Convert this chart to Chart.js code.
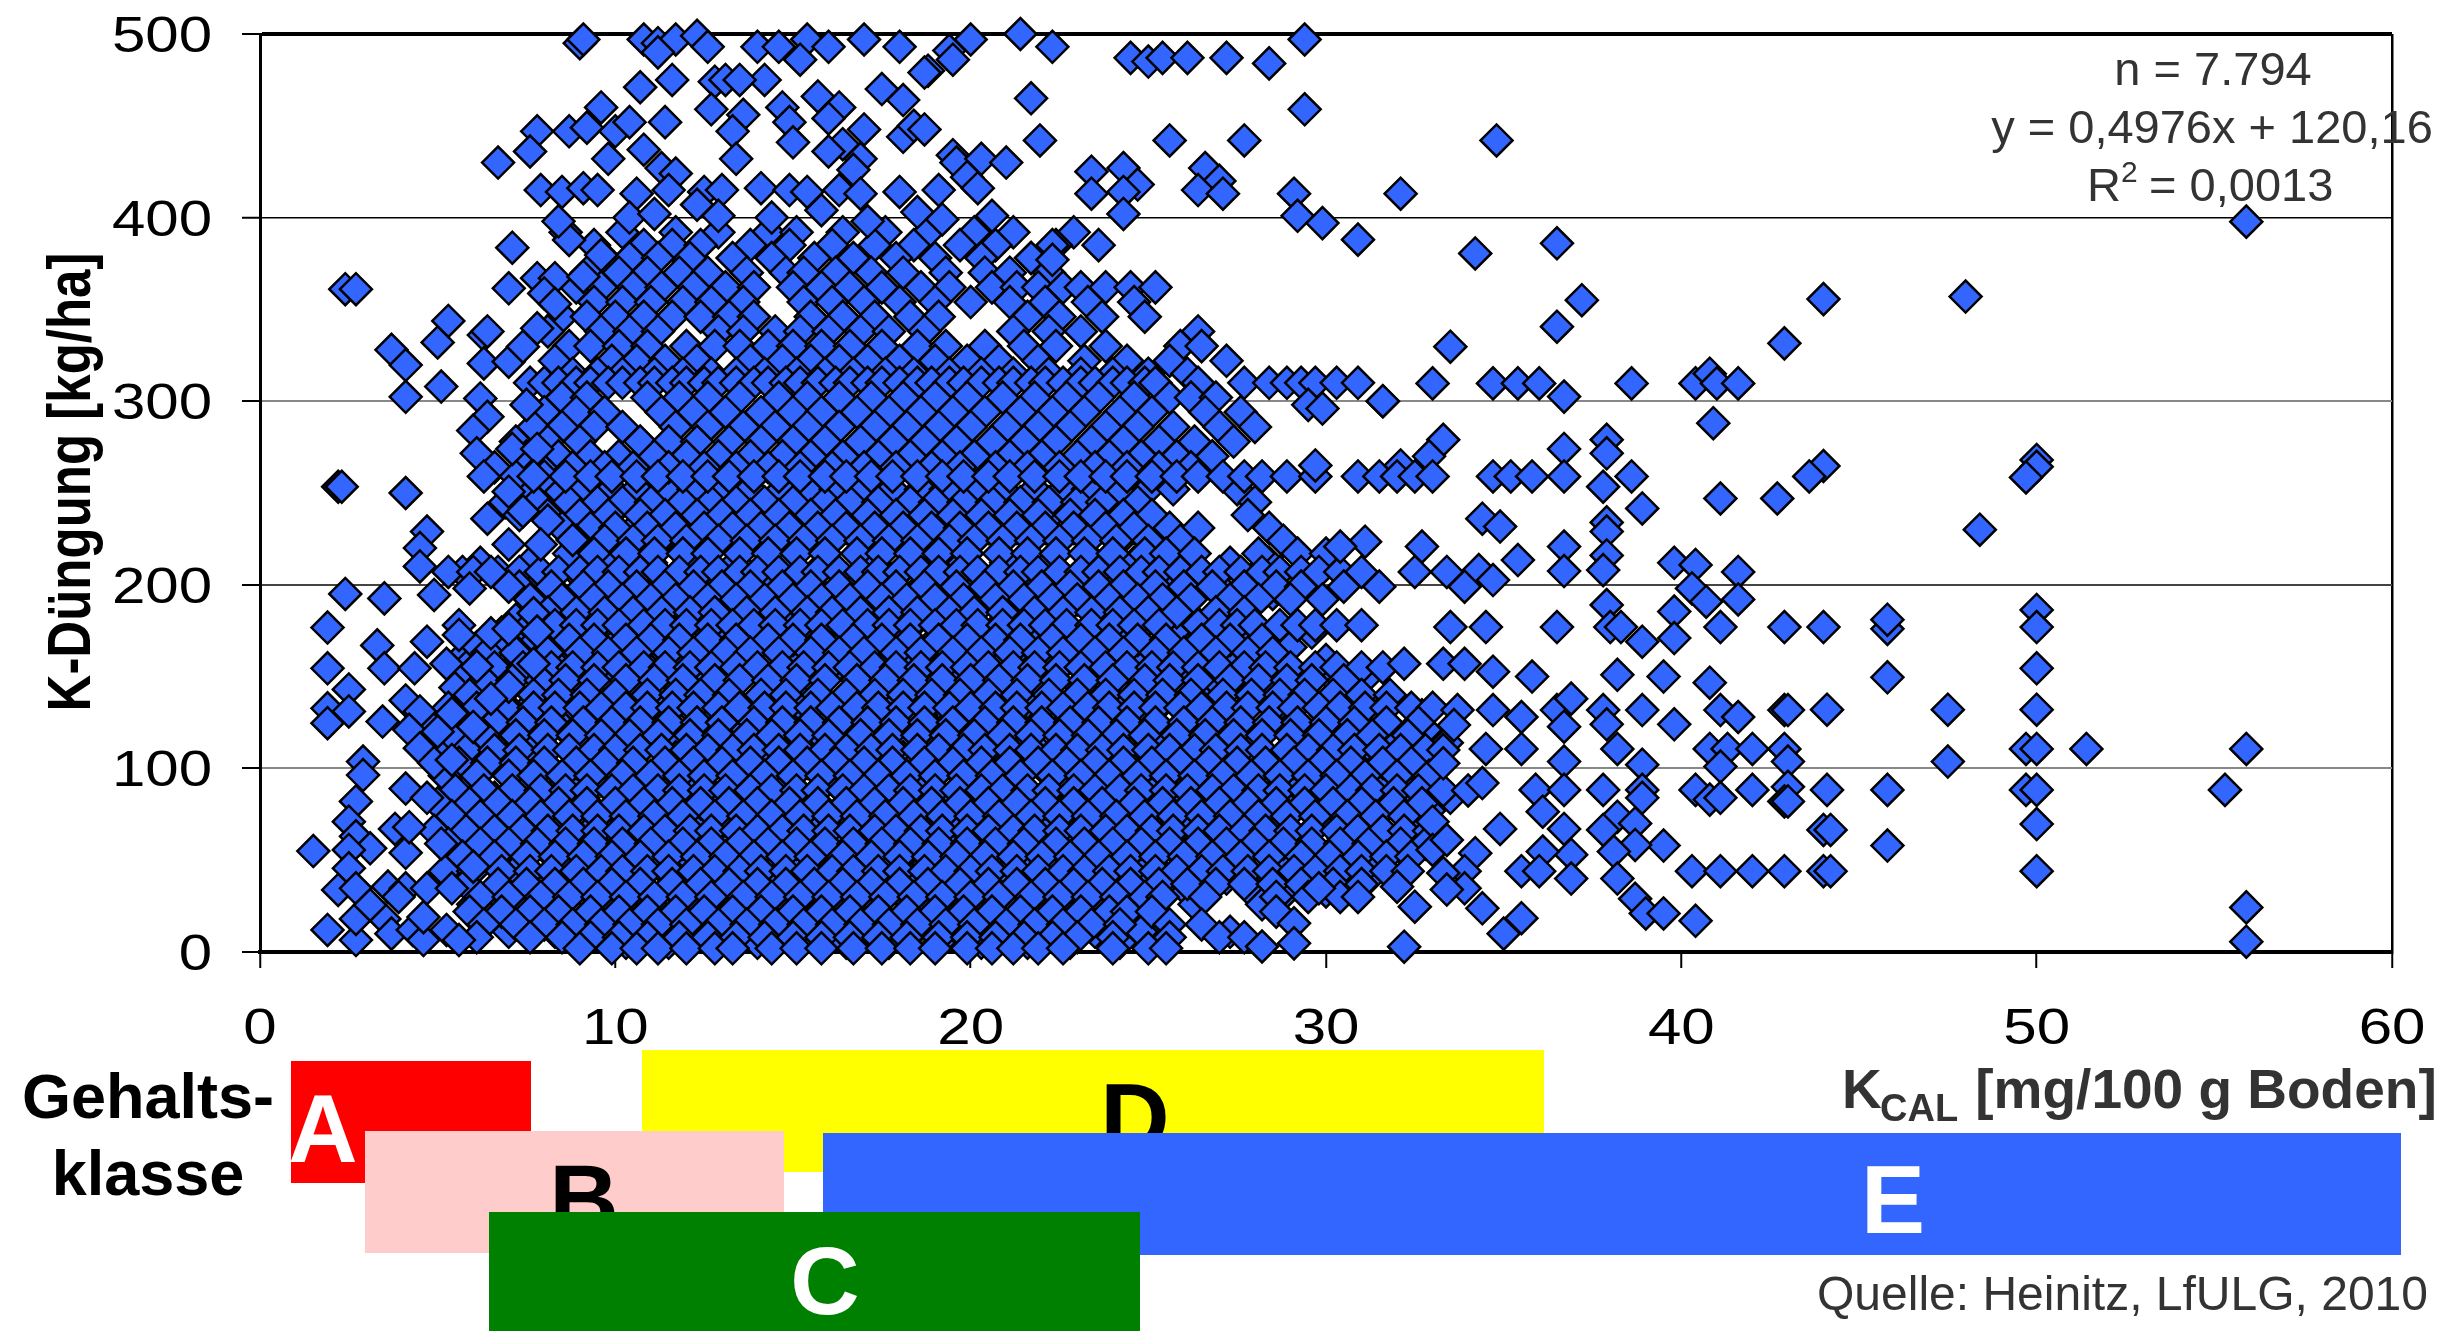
<!DOCTYPE html>
<html>
<head>
<meta charset="utf-8">
<title>K-Düngung</title>
<script src="https://cdn.jsdelivr.net/npm/chart.js@4/dist/chart.umd.min.js"></script>
<style>
  html, body { margin: 0; padding: 0; background: #fff; }
  canvas { display: block; }
</style>
</head>
<body>
<canvas id="kChart" width="2447" height="1331"></canvas>
<script>
var xTicks = [0, 10, 20, 30, 40, 50, 60];
var yTicks = [0, 100, 200, 300, 400, 500];

// sparse points above 400 kg/ha
var kcalTop = [9.0,9.1,10.8,11.2,11.7,12.3,15.4,17,20,21.4,29.4,12.6,14,14.6,16,18,19.4,22.3,11.2,15.2,19.5,24.5,25,25.4,26.1,27.2,28.4,18.8,12.8,14.2,10.7,11.6,13.1,13.5,17.5,18.1,18.7,21.7,29.4,9.6,12.7,13.6,14.7,15.7,16.3,7.8,8.7,9.2,10,10.4,11.4,13.3,14.9,15,16,16.4,17,18.1,18.4,18.7,21.95,25.6,27.7,34.8,6.7,7.6,9.8,10.8,11.3,11.7,13.4,16,16.9,16.7,19.5,19.6,20.3,19.9,21,23.4,24.3,26.6,24.7,27,7.9,8.5,9.1,9.5,10.6,11.5,12.5,13,14.1,14.9,15.4,16.3,16.9,18,19.1,20.2,23.4,24.3,26.4,27.1,29.1,32.1,8.4,10.4,11.1,12.3,12.9,14.4,15.8,17.1,18.5,19.2,20.6,24.3,29.2,29.9];
var duengTop = [495,497,497,495,497,499,497,497,497,500,497,493,493,493,493,493,491,493,490,486,486,487,485,487,487,487,484,480,474,475,471,475,475,475,470,464,479,465,459,460,459,456,460,466,460,447,447,449,447,452,452,447,452,441,454,440,448,444,450,448,442,442,442,442,430,436,432,437,427,424,432,436,432,426,434,430,432,422,430,425,427,427,418,420,415,414,416,415,413,415,414,415,416,415,414,415,413,414,415,416,413,414,415,413,413,413,398,400,402,407,401,400,404,398,403,399,401,402,401,397];

// outlying points right of the dense cloud
var kcalRight = [55.9,30.9,34.2,36.5,22.3,21.7,22.3,37.2,44,48,36.5,42.9,33.5,31.6,33,34.7,35.4,36,38.6,40.4,40.8,41,41.6,31.6,29.5,29.9,36.7,40.9,33.3,37.9,36.7,37.9,44,43.6,50,50,49.7,32.1,32.9,29.7,32,32.5,33,34.7,35.2,35.8,36.7,38.6,37.8,41.1,42.7,38.9,34.4,34.9,37.9,37.9,48.4,32.7,36.7,31.1,30.4,35.4,37.9,39.8,40.4,41.6,36.7,37.8,32.5,33.4,34.3,34.7,33.9,30.5,31.5,40.3,39.8,40.7,41.6,37.9,50,33.5,34.5,36.5,38,38.3,41.1,42.9,44,45.8,45.8,50,38.9,39.8,32.2,33.3,33.9,34.7,35.8,38.2,39.5,40.8,45.8,50,33.7,34.7,35.5,36.5,36.9,37.8,38.9,41.1,41.6,42.9,43,44.1,47.5,50,39.8,37.9,36.7,33.6,34.5,35.5,38.2,40.8,41.3,42,42.9,49.7,50,51.4,55.9,47.5,43,41.1,38.9,36.7,33.3,34.4,35.9,36.7,37.8,38.9,40.4,42,43,44.1,45.8,49.7,50,55.3,40.8,41.1,38.9,42.9,43,36.1,38.2,50,44,44.2,34.9,36.7,38.7,37.8,33,45.8,39.5,38.7,36.9,36.1,38.1,34.2,33,33.4,35.5,36,36.9,38.2,40.3,41.1,42,42.9,44,44.2,50,33.9,33.3,38.7,39,39.5,40.4,55.9,55.9,35.5,35,34.4,32.5,32.2,30.9,29.8,29.1,29.1,28.2,33.9,33.4,32];
var duengRight = [397.8,388,380.5,386,385,378,377,355,355.6,357,340.6,331.5,329.7,300,309.7,309.7,309.7,309.7,309.7,309.7,315,309.7,309.7,300,298,296,302.5,288,279,279,274,271.6,264.7,259,268,264.3,258.5,265,270,265,259,259,259,259,259,259,259,259,253.4,247,247,241.6,236,231.7,234,229,230,220.8,220.8,223.5,220.8,213.5,216,212,210.8,207,207.5,208,207,207,208,202.6,199,199,199,198,185.4,190.8,192,189,186.3,177,177,177,177,177,177,177,177,176,181,177,169,171,157,157,157,152.7,150,151,150,146.7,149.6,154.5,131.8,131.8,128,131.8,138,131.8,131.8,131.8,128,131.8,131.8,132,132,132,124,124,122.7,123.6,110.6,110.6,110.6,110.6,110.6,110.6,110.6,110.6,110.6,110.6,110.6,103.7,103.7,101,102,103.7,102.8,92,88.3,88.3,88.3,88.3,88.3,88.3,90,88.3,88.3,88.3,88.3,88.3,83,84,84,82,82,76.4,73.7,69.7,66.5,66.5,67,67,70,66.5,71,58,58,58.3,53,54.7,54.7,53.8,55.6,61,44,44,40,40,44,44,44,44,44,44,44,44,43,29,21,21,17,24.3,5.6,18.4,10,23.8,24.7,2.9,30,34.7,15.6,4.7,3,34.7,34,35.6];

// outlying points left of the dense cloud
var kcalLeft = [1.5,1.9,2.7,2.4,3.5,4.9,1.9,3.3,1.9,3.5,2.5,1.9,2.5,1.9,4.1,4.5,2.9,2.9,4.1,2.7,2.5,2.7,3.1,2.5,2.5,2.2,2.7,3.6,4.1,4.1,3.8,4.2,4.7,3.5,2.7,3.1,3.7,4.3,4.6,5.25,5.6,4.6,3.9,4.7,5.4,5.1,6,3.45,4.2,5,4.5,4.9,5.4,4.7,4.5,4.5,5.3,6,6.5,7,5.9,6.4,7.4,8.1,7,7.9,8.8,4.7,5.6,5.6,6.5,7,7.7,7.8,4.35,5.25,6.1,7,6.5,7.7,5.4,6,2.4,2.7,2.2,2.3,4.1,3.7,4.1,5,5.3,4.1,5.1,6.2,6.3,6.4,6.3,7,7.8,7.4,7.5,6.4,6,6.1,7.1,7.8,6.3,7,7.7,7,7.8,8.3,8,8.3,7.1,8.7,9.6,9.1];
var duengLeft = [55,12,6.5,195,192.6,194.5,176.7,167,154.5,154.5,143,132.7,131,124.6,137,131,103.7,96.4,89,82,71,63,56.5,55.6,45.6,33.8,34.7,35.6,34.7,54,67,68,84,18,18,25.6,10,12,6.5,12,6.5,19,30,34.7,34.7,59,46.5,125.5,121,120,111,103,104.6,229,220,210,207,207,207,199,198,236,240,235,222,222,224.4,169,178,172.7,173.6,176,184.5,174.5,154.5,157,155.5,144.5,138,157,130,122.6,361,361,253.4,253.4,250,328,319.7,332,343.7,302.4,308,301.5,336,338,320.6,321.5,339.7,329.7,298,291.5,284,271.6,274,274,259,250.7,259,361.5,367,367,358.7,353,383.6,387.8,379.6,367.8];

// upper part of the dense cloud, one x list per fertiliser level
var upperLevels = [392,385,378,370,362,354,346,338,330,322,315,310,302,294,286,278,270,264,259];
var upperKcal = [
  [8.6,10.2,11.7,12.9,14.3,15.1,16.4,17.6,18.8,20.1,21.2,22.9],
  [9.4,10.8,11.6,12.4,13.8,14.9,16.1,17.3,18.4,19.7,20.7,22.4,23.6],
  [9.7,10.4,11.2,12.1,13.3,14.4,15.6,16.7,17.9,19,20.3,21.7],
  [9.2,10.1,10.9,11.8,12.6,13.7,14.8,15.3,16.2,17.2,18.1,19.3,20.4,21.1,22.2],
  [8.9,9.6,10.5,11.3,12.2,13.1,13.9,15,15.8,16.6,17.5,18.6,19.4,20.6,21.3,21.9,22.6,23.1,23.8,24.5,25.2],
  [9.4,10.2,11,11.9,12.7,13.6,15.3,16.1,17,18,19,20,21.1,22.1,23.3,24.6],
  [8.5,9.2,10,10.8,11.6,12.4,13.2,13.9,15.5,16.4,17.3,18.3,19.1,21.6,22.5,23.7,24.9],
  [8.1,9.6,10.4,11.2,12.9,13.6,14.5,15.2,16,16.9,17.7,18.7,21.2,22.2,23.1,26.4],
  [8.7,9.3,10.1,10.9,12,12.8,13.5,14.3,15,15.8,16.6,17.5,18.5,19.3,20.4,21.5,22.4,23.8,25.9,26.5],
  [8.3,9.9,10.6,11.4,12.3,13.8,14.7,15.5,16.3,17.1,18,19,19.9,20.8,21.9,23.2,24.4,25.6,27.2],
  [8.8,9.5,10.2,11.1,11.9,12.7,13.4,14.2,15.1,15.9,16.7,17.6,18.4,19.4,20.3,21.2,22.2,23.1,24,25,26.1],
  [7.6,8,8.4,8.9,9.3,9.8,10.2,10.7,11.1,11.6,12,12.5,12.9,13.4,13.9,14.3,14.8,15.2,15.7,16.2,16.6,17.1,17.5,18,18.5,18.9,19.4,19.8,20.3,20.8,21.2,21.7,22.1,22.6,23.1,23.5,24,24.4,24.9,25.2,26.4,27.7,28.4,28.9,29.3,29.7,30.3,30.9],
  [8.5,9.2,10.9,11.8,12.6,13.5,14.6,15.4,16.3,17.2,18.1,19,19.9,20.9,21.8,22.7,23.6,24.6,25.6,26.2,26.9],
  [8,8.9,9.7,11.3,12.2,13.1,14.1,15,15.8,16.8,17.7,18.6,19.5,20.4,21.4,22.3,23.2,24.2,25.1,26.6,27.6],
  [7.7,8.5,9.4,10.2,11.7,12.6,13.6,14.5,15.4,16.3,17.3,18.2,19.1,20,21,21.9,22.8,23.8,24.7,25.7,27,28],
  [7.2,8.1,9,10.7,11.5,12.3,13.2,14.1,15,15.9,16.9,17.8,18.7,19.6,20.6,21.5,22.4,23.4,24.3,25.3,26.3,27.4],
  [7.5,8.4,9.3,10.1,11.1,12,12.9,13.8,14.7,15.5,16.4,17.4,18.3,19.2,20.1,21.1,22,23,23.9,24.8,25.8,26.8],
  [6.6,7.9,8.8,9.7,10.5,11.5,12.5,13.4,14.3,15.2,16.1,17,17.9,18.9,19.7,20.7,21.6,22.5,23.5,24.4,25.3,26.2],
  [7.2,8,8.6,9.3,9.9,10.6,11.2,11.9,12.6,13.2,13.9,14.6,15.2,15.9,16.5,17.2,17.8,18.5,19.2,19.8,20.5,21.1,21.8,22.5,23.1,23.8,24.4,25.1,25.8,26.4,27.1,27.7,28.2,28.9,29.7,30.9,31.5]
];

// lower part of the dense cloud
var lowerLevels = [252,245,238,231,224,217,207,199,192,185,178,170,163,155,148,140,133,125,118,110,103,96,88,81,74,66,59,52,44,37,30,22,15,8,2];
var lowerKcal = [
  [7.5,8.4,9.1,9.9,10.6,11.5,12.2,13.1,13.8,14.7,15.4,16.2,17,17.8,18.6,19.3,20.2,20.9,21.8,22.6,23.3,24.2,25,25.7,27.5],
  [6.9,7.8,8.7,9.5,10.2,11,11.9,12.7,13.4,14.2,15,15.9,16.6,17.4,18.3,19,19.8,20.6,21.4,22.2,23,23.7,24.7,28],
  [7.3,8.1,9,9.8,10.7,11.4,12.3,13,13.8,14.6,15.5,16.2,17.1,17.9,18.7,19.5,20.3,21.1,21.9,22.8,23.5,24.3,25.1,27.8],
  [8.5,9.3,10,10.9,11.7,12.5,13.3,14.1,14.9,15.7,16.5,17.3,18.1,18.9,19.7,20.5,21.3,22.1,22.9,23.8,24.6,25.6,26.4,28.4],
  [8.9,9.7,10.5,11.2,12,12.9,13.7,14.5,15.3,16.1,16.9,17.7,18.5,19.4,20.1,20.9,21.7,22.5,23.3,24.1,25,25.9,28.8],
  [8.7,9.4,10.3,11.1,11.9,12.6,13.5,14.3,15.1,15.9,16.8,17.5,18.3,19.1,19.9,20.8,21.6,22.4,23.2,24,24.9,25.5,26.3,28.1,29.2,30],
  [5.7,6.7,7.3,7.9,8.4,9,9.5,10.1,10.7,11.2,11.8,12.4,12.9,13.5,14,14.6,15.2,15.7,16.3,16.9,17.4,18,18.6,19.1,19.7,20.2,20.8,21.4,21.9,22.5,23.1,23.6,24.2,24.8,25.3,25.9,26.5,27,27.6,28.2,28.7,29.3,29.8,30.4,31],
  [7.3,8.2,9.1,9.8,10.6,11.4,12.2,13,13.8,14.7,15.5,16.3,17.1,17.9,18.7,19.6,20.4,21.2,22,22.8,23.6,24.3,25.2,26,26.8,27.7,28.6,29.3],
  [7.6,8.5,9.4,10.2,11,11.7,12.6,13.4,14.2,15,15.8,16.6,17.5,18.2,19,19.8,20.7,21.5,22.3,23,23.9,24.7,25.4,26.2,27.3,28.1,29,29.9],
  [8.1,8.9,9.7,10.5,11.3,12.1,12.8,13.7,14.5,15.4,16.1,16.9,17.7,18.5,19.4,20.1,20.9,21.8,22.6,23.4,24.2,25,25.8,26.9,27.7],
  [7.6,8.3,8.9,9.5,10.1,10.8,11.4,12,12.7,13.3,13.9,14.5,15.2,15.8,16.4,17.1,17.7,18.3,19,19.6,20.2,20.9,21.5,22.1,22.7,23.4,24,24.6,25.3,26.4,27,27.5,28,28.7,29.2,29.7,30.3,31],
  [6.9,7.8,8.7,9.4,10.3,11,11.8,12.6,13.4,14.3,15,15.8,16.7,17.5,18.3,19.1,19.9,20.7,21.4,22.3,23.1,23.9,24.7,25.5,26.5,27.3,28.2],
  [6.4,7.2,8.1,9,9.8,10.6,11.5,12.2,13.1,13.8,14.6,15.5,16.3,17,17.9,18.6,19.5,20.3,21.1,21.9,22.6,23.5,24.3,25.2,26,26.9,27.8,28.5],
  [5.8,6.6,7.4,8.2,8.8,9.5,10.1,10.8,11.4,12.1,12.7,13.4,14,14.7,15.3,16,16.6,17.3,17.9,18.6,19.2,19.9,20.5,21.2,21.8,22.5,23.1,23.8,24.4,25.1,25.7,26.4,27,27.7,28.3,29,29.7,30.3,31,31.6],
  [6.3,7.1,7.9,8.6,9.4,10.3,11.1,11.9,12.8,13.5,14.3,15.1,15.9,16.8,17.6,18.4,19.2,20,20.8,21.6,22.4,23.2,24,24.9,25.6,26.4,27.3,28.1,28.9,29.6,30.5],
  [5.9,6.8,7.7,8.4,9.2,10,10.9,11.7,12.4,13.2,14.1,14.8,15.7,16.5,17.3,18.1,18.9,19.7,20.5,21.3,22.2,23,23.8,24.6,25.4,26.2,27.1,27.9,28.7,29.4,30.2,31,31.8],
  [5.3,6.1,6.9,7.7,8.3,9,9.6,10.3,10.9,11.6,12.2,12.9,13.5,14.2,14.8,15.5,16.1,16.8,17.4,18.1,18.7,19.4,20,20.7,21.3,22,22.6,23.3,23.9,24.6,25.2,25.9,26.5,27.2,27.8,28.5,29.1,29.8,30.4,31.1,31.7,32.4,33],
  [4.7,5.7,6.6,7.4,8.2,9.1,9.9,10.7,11.5,12.3,13,13.9,14.7,15.5,16.3,17.1,17.9,18.7,19.5,20.4,21.2,22,22.8,23.6,24.4,25.2,26,26.8,27.6,28.4,29.2,30,30.8,31.7,32.6],
  [5.4,6.3,7.2,8,8.8,9.6,10.4,11.2,12.1,12.9,13.7,14.4,15.2,16,16.9,17.7,18.5,19.3,20.1,20.9,21.7,22.5,23.3,24.1,24.9,25.8,26.6,27.4,28.2,29,29.8,30.6,31.3,32.3],
  [5.8,6.6,7.3,8.1,8.7,9.4,10,10.7,11.3,12,12.6,13.3,13.9,14.6,15.2,15.9,16.5,17.2,17.8,18.5,19.1,19.8,20.4,21.1,21.7,22.4,23,23.7,24.3,25,25.6,26.3,26.9,27.6,28.2,28.9,29.5,30.2,30.8,31.5,32.1,32.8,33.3],
  [5.6,6.4,7.2,8,8.9,9.7,10.5,11.4,12.2,13,13.8,14.6,15.4,16.2,17,17.8,18.7,19.5,20.3,21.1,21.9,22.7,23.5,24.3,25.1,25.9,26.7,27.5,28.3,29.1,29.9,30.7,31.6,32.4],
  [5.2,6.1,7,7.7,8.5,9.3,10.2,11,11.8,12.5,13.3,14.2,15,15.8,16.6,17.4,18.2,19,19.8,20.6,21.4,22.3,23.1,23.9,24.7,25.5,26.3,27.1,27.9,28.7,29.5,30.3,31.1,32,32.9],
  [5.5,6.3,7.1,7.9,8.6,9.2,9.9,10.5,11.2,11.8,12.5,13.1,13.8,14.4,15.1,15.7,16.4,17,17.7,18.3,19,19.6,20.3,20.9,21.6,22.2,22.9,23.5,24.2,24.8,25.5,26.1,26.8,27.4,28.1,28.7,29.4,30,30.7,31.3,32,32.6,33.3,34],
  [5,5.9,6.7,7.6,8.4,9.2,10,10.8,11.6,12.4,13.2,14,14.9,15.7,16.5,17.3,18.1,18.9,19.7,20.5,21.3,22.1,22.9,23.7,24.6,25.4,26.2,27,27.8,28.6,29.4,30.2,31,31.9,32.7],
  [5.4,6.2,7.1,7.9,8.7,9.5,10.3,11.1,11.9,12.8,13.6,14.4,15.2,16,16.8,17.6,18.4,19.2,20,20.8,21.7,22.5,23.3,24.1,24.9,25.7,26.5,27.3,28.1,28.9,29.7,30.6,31.4,32.2],
  [4.9,5.8,6.6,7.4,8.1,8.8,9.5,10.1,10.8,11.4,12.1,12.7,13.4,14,14.7,15.3,16,16.6,17.3,17.9,18.6,19.2,19.9,20.5,21.2,21.8,22.5,23.1,23.8,24.4,25.1,25.7,26.4,27,27.7,28.3,29,29.6,30.3,30.9,31.6,32.2,32.9],
  [5.3,6.2,7,7.8,8.6,9.4,10.2,11,11.9,12.7,13.5,14.3,15.1,15.9,16.7,17.5,18.3,19.1,19.9,20.7,21.5,22.4,23.2,24,24.8,25.6,26.4,27.2,28,28.8,29.6,30.4,31.2,32.1,32.8],
  [5.7,6.6,7.5,8.3,9.1,9.9,10.7,11.5,12.3,13.1,13.9,14.7,15.5,16.4,17.2,18,18.8,19.6,20.4,21.2,22,22.8,23.6,24.4,25.2,26,26.8,27.6,28.4,29.3,30.1,30.9,31.7,32.4],
  [5.2,6,6.8,7.6,8.2,8.9,9.6,10.2,10.9,11.5,12.2,12.8,13.5,14.1,14.8,15.4,16.1,16.7,17.4,18,18.7,19.3,20,20.6,21.3,21.9,22.6,23.2,23.9,24.5,25.2,25.8,26.5,27.1,27.8,28.4,29.1,29.7,30.4,31,31.7,32.3],
  [5.8,6.7,7.5,8.3,9.1,9.9,10.7,11.6,12.4,13.2,14,14.8,15.6,16.4,17.2,18,18.8,19.7,20.5,21.3,22.1,22.9,23.7,24.5,25.3,26.1,26.9,27.7,28.5,29.3,30.2,31],
  [6.2,7,7.9,8.7,9.5,10.3,11.1,11.9,12.7,13.6,14.4,15.2,16,16.8,17.6,18.4,19.2,20,20.8,21.7,22.5,23.3,24.1,24.9,25.4,26.6,28.6,29.5,30.4],
  [5.9,6.8,7.6,8.4,9.3,10.1,10.9,11.7,12.5,13.3,14.1,15,15.8,16.6,17.4,18.2,19,19.8,20.6,21.4,22.3,23.1,23.9,24.4,25.1,28.6],
  [6.3,7.2,8,8.8,9.6,10.4,11.2,12,12.9,13.7,14.5,15.3,16.1,16.9,17.7,18.5,19.3,20.1,21,21.8,22.6,23.4,24.2,25.6,26.5],
  [6.1,7.6,8.5,9.3,10.1,10.9,11.8,12.6,13.4,14.2,15,15.8,16.6,17.4,18.2,19.1,19.9,20.7,21.5,22.3,23,24,25.6,27,27.7],
  [9,9.9,10.6,11.2,12,12.8,13.3,14.4,15.1,15.8,16.7,17.5,18.3,19,19.9,20.6,21.2,21.9,22.6,24,25,25.5]
];

// in-between levels of the dense cloud, drawn first so they show through the gaps
var middleLevels = [241,228,212,203,195,181,174,166,159,151,144,136,129,121,114,106,99,92,84,77,70,62,55,48,40,33,26,18,11,5];
var middleKcal = [
  [8.2,9.5,10.8,12.4,13.6,15.2,16.7,18.1,19.2,20.7,22.4,23.8],
  [9.2,10.4,11.5,13,14.4,15.7,17.2,18.8,20.3,21.5,23.1,24.4],
  [6.2,7.6,8.7,9.8,11,12.2,13.4,14.8,15.9,17.3,18.4,19.8,21,22.2,23.5,24.6,26,27.3,28.4],
  [7.9,9.1,10.3,11.6,12.7,14,15.3,16.5,17.8,19,20.1,21.5,22.7,24,25.5,26.6,27.9],
  [8.3,9.6,10.9,12.1,13.2,14.6,15.8,17,18.4,19.7,20.8,22.1,23.4,24.7,26,27.2,28.5],
  [7.2,8.6,9.8,11.1,12.3,13.6,14.9,16.2,17.4,18.5,19.9,21.2,22.4,23.7,25,26.3,27.5],
  [6.8,8,9.3,10.6,11.7,13.1,14.2,15.5,16.9,18,19.3,20.6,21.8,23.2,24.4,25.7,27,28.2,29.6],
  [6.1,7.3,8.7,9.9,11.2,12.5,13.7,15,16.3,17.6,18.8,20,21.4,22.6,23.9,25.3,26.2,27.7,29],
  [5.6,7,8.2,9.5,10.7,12,13.3,14.5,15.8,17.1,18.3,19.6,20.9,22.1,23.4,24.7,25.9,27.3,28.6,30],
  [6.9,8.4,9.7,10.9,12.2,13.5,14.7,16,17.3,18.6,19.8,21.1,22.3,23.6,24.9,26.2,27.5,28.7,30.1,31.2],
  [5.5,6.7,8,9.2,10.5,11.8,13,14.3,15.6,16.8,18.1,19.3,20.6,21.9,23.1,24.4,25.7,27,28.2,29.4,30.7],
  [6.4,7.7,9,10.2,11.5,12.7,14,15.3,16.5,17.8,19.1,20.3,21.6,22.8,24.1,25.4,26.6,27.9,29.2,30.5,31.8],
  [5.9,7.2,8.5,9.7,11,12.3,13.5,14.8,16.1,17.3,18.6,19.9,21.1,22.4,23.7,24.9,26.2,27.4,28.7,30,31.3,32.7],
  [6.1,7.4,8.6,9.9,11.2,12.4,13.7,15,16.2,17.5,18.8,20,21.3,22.5,23.8,25.1,26.4,27.6,28.9,30.2,31.5,32.8],
  [5.1,6.5,7.8,9,10.3,11.6,12.8,14.1,15.4,16.6,17.9,19.2,20.4,21.7,23,24.2,25.5,26.8,28,29.3,30.6,31.8,33.4],
  [6.7,7.9,9.2,10.5,11.7,13,14.3,15.5,16.8,18.1,19.3,20.6,21.9,23.1,24.4,25.6,26.9,28.2,29.5,30.8,32.1],
  [5.6,6.9,8.2,9.4,10.7,12,13.2,14.5,15.8,17,18.3,19.6,20.8,22.1,23.4,24.6,25.9,27.1,28.4,29.7,31,32.4],
  [6,7.3,8.6,9.8,11.1,12.4,13.6,14.9,16.2,17.4,18.7,20,21.2,22.5,23.7,25,26.3,27.5,28.8,30.1,31.4,32.6],
  [5.3,6.6,7.9,9.1,10.4,11.7,12.9,14.2,15.5,16.7,18,19.2,20.5,21.8,23,24.3,25.6,26.8,28.1,29.4,30.7,32,33.5],
  [6.2,7.5,8.8,10,11.3,12.5,13.8,15.1,16.3,17.6,18.9,20.1,21.4,22.7,23.9,25.2,26.5,27.7,29,30.3,31.5,32.9],
  [5.7,7,8.3,9.5,10.8,12.1,13.3,14.6,15.9,17.1,18.4,19.7,20.9,22.2,23.5,24.7,26,27.2,28.5,29.8,31.1,32.5],
  [6.4,7.7,9,10.2,11.5,12.8,14,15.3,16.6,17.8,19.1,20.3,21.6,22.9,24.1,25.4,26.7,27.9,29.2,30.5,31.7,33.1],
  [5.5,6.8,8.1,9.3,10.6,11.9,13.1,14.4,15.7,16.9,18.2,19.5,20.7,22,23.2,24.5,25.8,27,28.3,29.6,30.9,32.2],
  [6.1,7.4,8.7,9.9,11.2,12.5,13.7,15,16.3,17.5,18.8,20,21.3,22.6,23.8,25.1,26.4,27.6,28.9,30.2,31.4],
  [5.6,7,8.2,9.5,10.7,12,13.3,14.5,15.8,17.1,18.3,19.6,20.8,22.1,23.4,24.6,25.9,27.2,28.5,29.7,31.2],
  [6.6,7.9,9.1,10.4,11.7,12.9,14.2,15.4,16.7,18,19.2,20.5,21.8,23,24.3,25.5,26.1,27.9,28.9,30],
  [6,7.2,8.5,9.8,11,12.3,13.6,14.8,16.1,17.3,18.6,19.9,21.1,22.4,23.7,24.8,26.3,28.2],
  [6.8,8.1,9.4,10.6,11.9,13.1,14.4,15.7,16.9,18.2,19.5,20.7,22,23.2,24.5,25.2],
  [7,8.3,9.6,10.8,12.1,13.4,14.6,15.9,17.2,18.4,19.6,20.9,22.2,23.5,24.8,27.3],
  [8.9,10.3,11.5,12.7,14,15.2,16.5,17.7,19.1,20.3,21.6,22.8,24.2]
];

var points = [];
function addPairs(xs, ys) {
  for (var i = 0; i < xs.length; i++) {
    points.push({ x: xs[i], y: ys[i] });
  }
}
function addLevels(levels, xLists) {
  for (var i = 0; i < levels.length; i++) {
    for (var j = 0; j < xLists[i].length; j++) {
      points.push({ x: xLists[i][j], y: levels[i] });
    }
  }
}
addLevels(middleLevels, middleKcal);
addLevels(lowerLevels, lowerKcal);
addLevels(upperLevels, upperKcal);
addPairs(kcalLeft, duengLeft);
addPairs(kcalRight, duengRight);
addPairs(kcalTop, duengTop);

function stretched(ctx, text, x, y, align, sx) {
  ctx.save();
  ctx.translate(x, y);
  ctx.scale(sx, 1);
  ctx.textAlign = align;
  ctx.fillText(text, 0, 0);
  ctx.restore();
}

function band(ctx, color, x0, y0, x1, y1, letter, letterColor, lx, ly) {
  ctx.fillStyle = color;
  ctx.fillRect(x0, y0, x1 - x0, y1 - y0);
  ctx.fillStyle = letterColor;
  ctx.font = 'bold 96px "Liberation Sans"';
  ctx.textAlign = 'center';
  ctx.textBaseline = 'alphabetic';
  ctx.fillText(letter, lx, ly);
}

var labelsPlugin = {
  id: 'labelsPlugin',
  afterDraw: function(chart) {
    var ctx = chart.ctx;
    var xs = chart.scales.x;
    var ys = chart.scales.y;
    ctx.save();
    ctx.textBaseline = 'alphabetic';
    ctx.fillStyle = '#000';
    ctx.font = '50px "Liberation Sans"';
    xs.ticks.forEach(function(t) {
      stretched(ctx, t.label, xs.getPixelForValue(t.value), 1044, 'center', 1.2);
    });
    ys.ticks.forEach(function(t) {
      stretched(ctx, t.label, 212, ys.getPixelForValue(t.value) + 18, 'right', 1.2);
    });

    // y axis title, wider across the text like the original
    ctx.font = 'bold 51px "Liberation Sans"';
    ctx.save();
    ctx.translate(90, 482);
    ctx.scale(1.2, 1);
    ctx.rotate(-Math.PI / 2);
    ctx.textAlign = 'center';
    ctx.fillText('K-Düngung [kg/ha]', 0, 0);
    ctx.restore();

    // regression note
    ctx.fillStyle = '#333';
    ctx.font = '47px "Liberation Sans"';
    ctx.textAlign = 'center';
    ctx.fillText('n = 7.794', 2213, 85);
    ctx.fillText('y = 0,4976x + 120,16', 2212, 143);
    ctx.textAlign = 'left';
    ctx.fillText('R', 2087, 201);
    ctx.font = '30px "Liberation Sans"';
    ctx.fillText('2', 2121, 182);
    ctx.font = '47px "Liberation Sans"';
    ctx.fillText(' = 0,0013', 2136, 201);

    // Gehaltsklassen
    band(ctx, '#FF0000', 291, 1061, 531, 1183, 'A', '#fff', 323, 1162);
    band(ctx, '#FFFF00', 642, 1050, 1544, 1172, 'D', '#000', 1135, 1151);
    band(ctx, '#FFCCCC', 365, 1131, 784, 1253, 'B', '#000', 584, 1232);
    band(ctx, '#3366FF', 823, 1133, 2401, 1255, 'E', '#fff', 1893, 1233);
    band(ctx, '#008000', 489, 1212, 1140, 1331, 'C', '#fff', 825, 1314);

    ctx.fillStyle = '#000';
    ctx.textAlign = 'center';
    ctx.font = 'bold 63px "Liberation Sans"';
    ctx.fillText('Gehalts-', 148, 1118);
    ctx.fillText('klasse', 148, 1195);

    // x axis title with subscript
    ctx.fillStyle = '#333';
    ctx.textAlign = 'left';
    ctx.font = 'bold 55px "Liberation Sans"';
    ctx.fillText('K', 1842, 1108);
    ctx.font = 'bold 38px "Liberation Sans"';
    ctx.fillText('CAL', 1880, 1121);
    ctx.font = 'bold 55px "Liberation Sans"';
    ctx.fillText(' [mg/100 g Boden]', 1960, 1108);

    ctx.font = '48px "Liberation Sans"';
    ctx.textAlign = 'right';
    ctx.fillText('Quelle: Heinitz, LfULG, 2010', 2428, 1310);
    ctx.restore();
  }
};

new Chart(document.getElementById('kChart'), {
  type: 'scatter',
  data: {
    datasets: [{
      label: 'K-Düngung',
      data: points,
      pointStyle: 'rectRot',
      pointRadius: 16,
      pointBorderWidth: 2.5,
      pointBackgroundColor: '#3366FF',
      pointBorderColor: '#000',
      clip: false
    }]
  },
  options: {
    responsive: false,
    animation: false,
    devicePixelRatio: 1,
    layout: { padding: { top: 34, right: 55, left: 0, bottom: 0 } },
    plugins: {
      legend: { display: false },
      title: { display: false },
      tooltip: { enabled: false }
    },
    scales: {
      x: {
        type: 'linear',
        min: 0,
        max: 60,
        afterBuildTicks: function(axis) {
          axis.ticks = xTicks.map(function(v) { return { value: v }; });
        },
        afterFit: function(axis) { axis.height = 379; },
        border: { display: true, color: '#000', width: 4 },
        grid: {
          color: function(c) { return c.tick && c.tick.value === 60 ? '#000' : 'rgba(0,0,0,0)'; },
          lineWidth: 2.5,
          tickColor: '#000',
          tickLength: 16,
          tickWidth: 2
        },
        ticks: { display: false }
      },
      y: {
        type: 'linear',
        min: 0,
        max: 500,
        afterBuildTicks: function(axis) {
          axis.ticks = yTicks.map(function(v) { return { value: v }; });
        },
        afterFit: function(axis) { axis.width = 260; },
        border: { display: true, color: '#000', width: 3 },
        grid: {
          color: function(c) {
            var v = c.tick ? c.tick.value : 0;
            if (v === 500 || v === 400) return '#000';
            if (v === 200) return '#444';
            return '#888';
          },
          lineWidth: function(c) {
            var v = c.tick ? c.tick.value : 0;
            if (v === 500) return 4;
            return v === 400 ? 1.5 : 2;
          },
          tickColor: '#000',
          tickLength: 18,
          tickWidth: 2
        },
        ticks: { display: false }
      }
    }
  },
  plugins: [labelsPlugin]
});
</script>
</body>
</html>
